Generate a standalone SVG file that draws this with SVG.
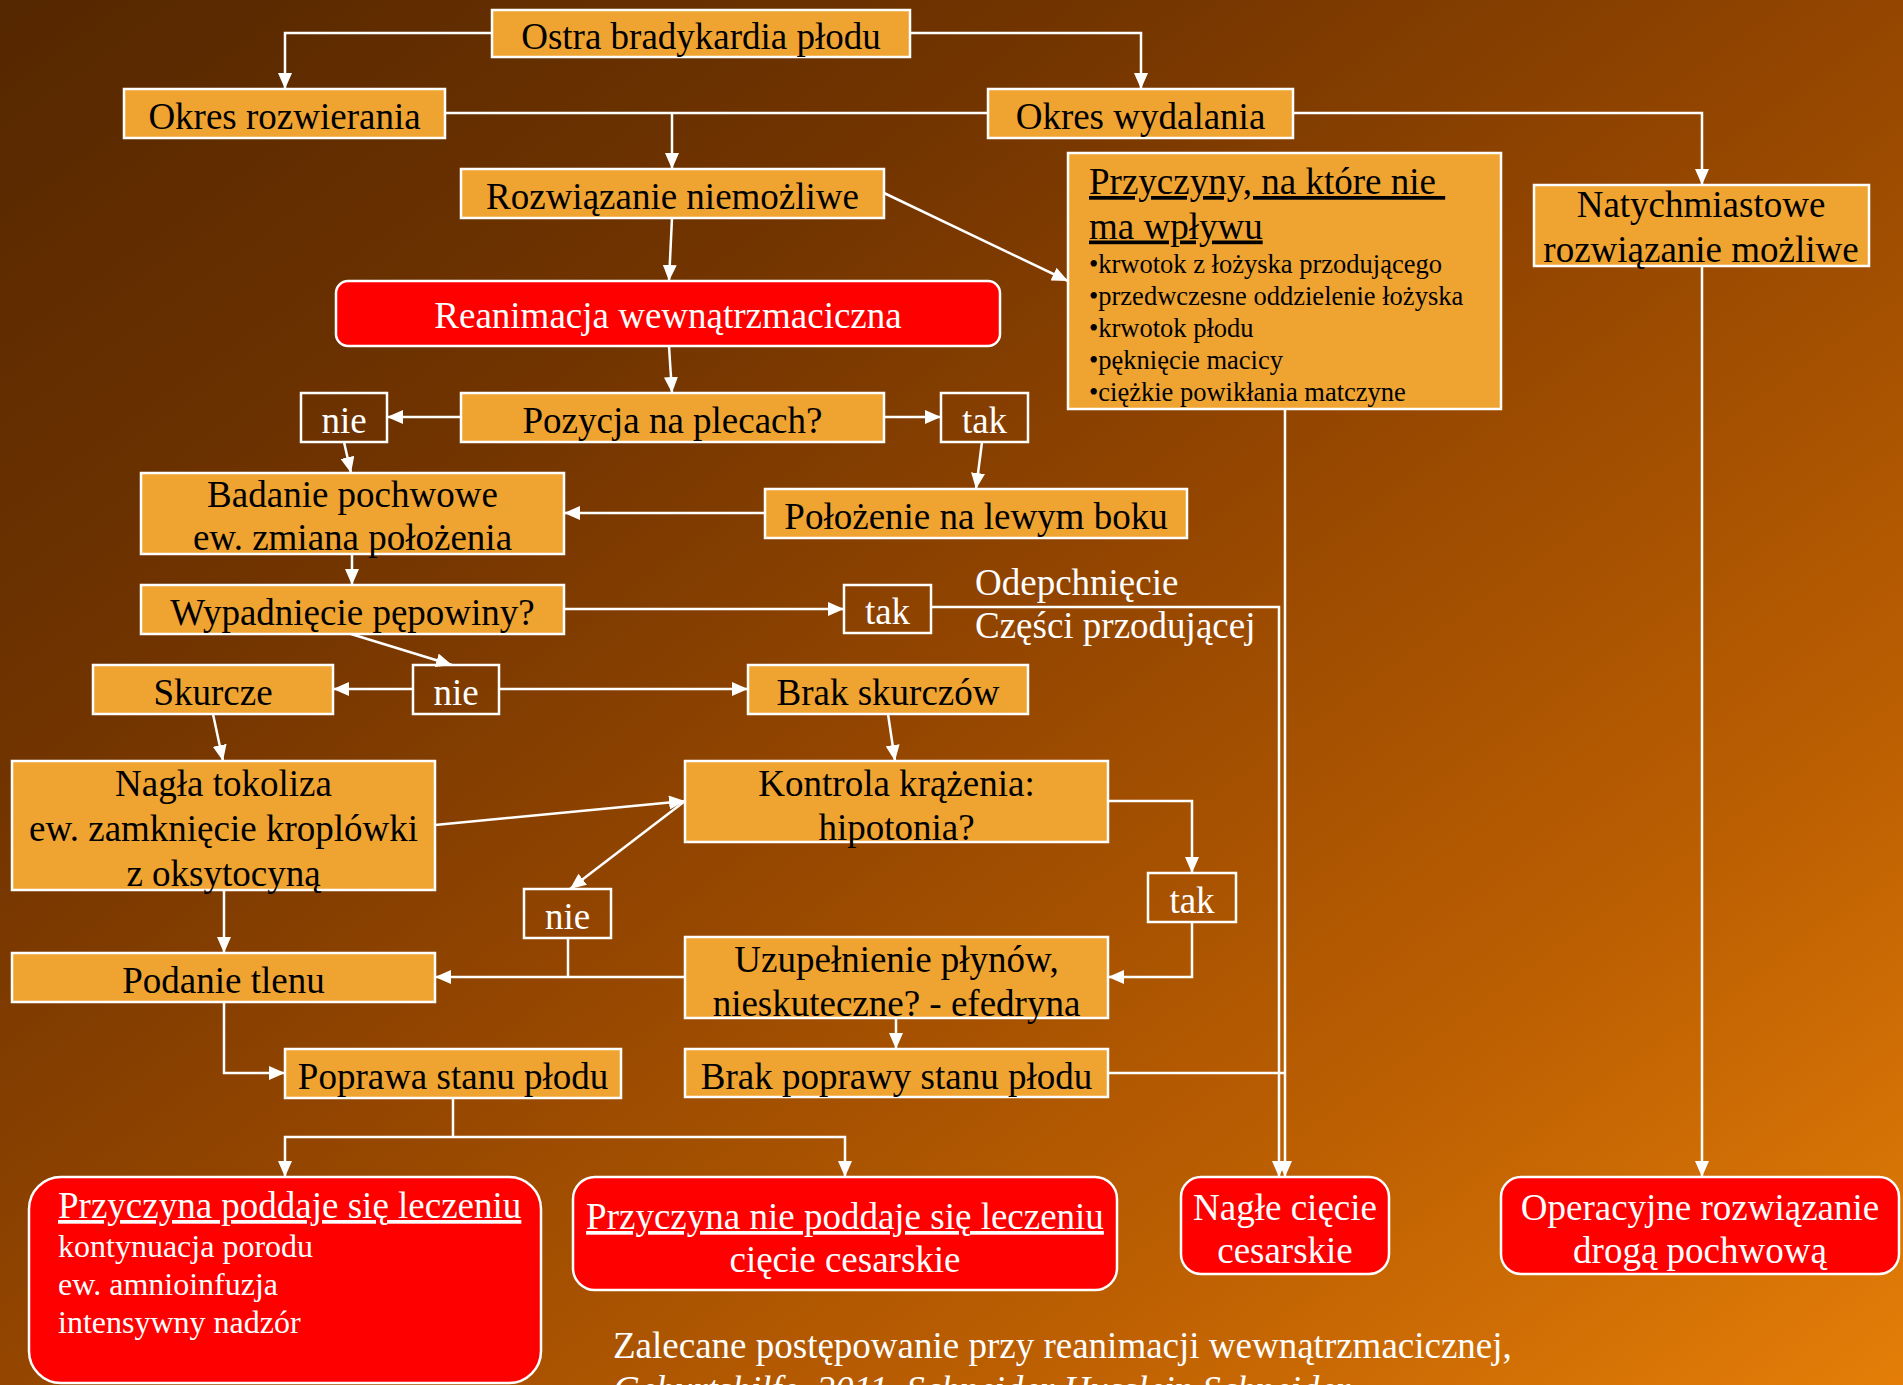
<svg xmlns="http://www.w3.org/2000/svg" width="1903" height="1385" viewBox="0 0 1903 1385">
<defs>
<linearGradient id="bg" x1="0" y1="0" x2="1" y2="1">
<stop offset="0" stop-color="#552700"/>
<stop offset="0.28" stop-color="#713400"/>
<stop offset="0.5" stop-color="#944600"/>
<stop offset="0.76" stop-color="#bc5f02"/>
<stop offset="1" stop-color="#e47e08"/>
</linearGradient>
<marker id="ar" viewBox="0 0 16 14" refX="16" refY="7" markerWidth="16" markerHeight="14" orient="auto" markerUnits="userSpaceOnUse">
<path d="M0,0 L16,7 L0,14 z" fill="#fff"/>
</marker>
<style>
text{font-family:"Liberation Serif","Times New Roman",serif;font-size:37px}
.o{fill:#efa331;stroke:#fff;stroke-width:2.5}
.r{fill:#ff0000;stroke:#fff;stroke-width:2.5}
.d{fill:none;stroke:#fff;stroke-width:2.5}
.k{fill:#000}
.w{fill:#fff}
.c{text-anchor:middle}
.s{font-size:26.5px}
.m{font-size:32px}
.u{text-decoration:underline}
#connectors path{fill:none;stroke:#fff;stroke-width:2.5}
#connectors path.a{marker-end:url(#ar)}
</style>
</defs>
<rect x="0" y="0" width="1903" height="1385" fill="url(#bg)"/>
<g id="connectors">
<path class="a" d="M492,33 H285 V89"/>
<path class="a" d="M910,33 H1141 V89"/>
<path d="M445,113 H988"/>
<path class="a" d="M672,113 V169"/>
<path class="a" d="M1293,113 H1702 V185"/>
<path class="a" d="M884,193 L1068,281"/>
<path class="a" d="M672,218 L669,281"/>
<path class="a" d="M669,346 L672,393"/>
<path class="a" d="M461,417 H387"/>
<path class="a" d="M884,417 H941"/>
<path class="a" d="M344,442 L351,473"/>
<path class="a" d="M982,442 L976,489"/>
<path class="a" d="M765,513 H564"/>
<path class="a" d="M352,554 V585"/>
<path class="a" d="M564,609 H844"/>
<path class="a" d="M931,607 H1279 V1177"/>
<path class="a" d="M351,634 L452,665"/>
<path class="a" d="M413,689 H333"/>
<path class="a" d="M499,689 H748"/>
<path class="a" d="M213,714 L223,761"/>
<path class="a" d="M888,714 L895,761"/>
<path class="a" d="M435,825 L685,801"/>
<path class="a" d="M685,801 L570,889"/>
<path class="a" d="M1108,801 H1192 V873"/>
<path class="a" d="M1192,922 V977 H1108"/>
<path class="a" d="M685,977 H435"/>
<path d="M568,938 V977"/>
<path class="a" d="M224,890 V953"/>
<path class="a" d="M896,1018 V1049"/>
<path class="a" d="M224,1002 V1073 H285"/>
<path d="M1108,1073 H1285"/>
<path class="a" d="M1285,409 V1177"/>
<path d="M453,1098 V1137"/>
<path class="a" d="M453,1137 H285 V1177"/>
<path class="a" d="M453,1137 H845 V1177"/>
<path class="a" d="M1702,266 V1177"/>
<text class="w" x="975" y="594.5">Odepchnięcie</text>
<text class="w" x="975" y="638">Części przodującej</text>
</g>
<g id="ostra"><rect class="o" x="492" y="10" width="418" height="47"/><text class="k c" x="701" y="48.5">Ostra bradykardia płodu</text></g>
<g id="okres_rozwierania"><rect class="o" x="124" y="89" width="321" height="49"/><text class="k c" x="284.5" y="128.5">Okres rozwierania</text></g>
<g id="okres_wydalania"><rect class="o" x="988" y="89" width="305" height="49"/><text class="k c" x="1140.5" y="128.5">Okres wydalania</text></g>
<g id="rozwiazanie_niemozliwe"><rect class="o" x="461" y="169" width="423" height="49"/><text class="k c" x="672.5" y="208.5">Rozwiązanie niemożliwe</text></g>
<g id="przyczyny"><rect class="o" x="1068" y="153" width="433" height="256"/>
<text class="k u" x="1089" y="194">Przyczyny, na które nie&#160;</text>
<text class="k u" x="1089" y="238.5">ma wpływu</text>
<text class="k s" x="1089" y="273">•krwotok z łożyska przodującego</text>
<text class="k s" x="1089" y="305">•przedwczesne oddzielenie łożyska</text>
<text class="k s" x="1089" y="337">•krwotok płodu</text>
<text class="k s" x="1089" y="369">•pęknięcie macicy</text>
<text class="k s" x="1089" y="401">•ciężkie powikłania matczyne</text>
</g>
<g id="natychmiastowe"><rect class="o" x="1534" y="185" width="335" height="81"/><text class="k c" x="1701" y="217">Natychmiastowe</text><text class="k c" x="1701" y="262">rozwiązanie możliwe</text></g>
<g id="reanimacja"><rect class="r" x="336" y="281" width="664" height="65" rx="12"/><text class="w c" x="668" y="327.5">Reanimacja wewnątrzmaciczna</text></g>
<g id="pozycja"><rect class="o" x="461" y="393" width="423" height="49"/><text class="k c" x="672.5" y="432.5">Pozycja na plecach?</text></g>
<g id="nie1"><rect class="d" x="301" y="393" width="86" height="49"/><text class="w c" x="344" y="432.5">nie</text></g>
<g id="tak1"><rect class="d" x="941" y="393" width="87" height="49"/><text class="w c" x="984.5" y="432.5">tak</text></g>
<g id="badanie"><rect class="o" x="141" y="473" width="423" height="81"/><text class="k c" x="352.5" y="506.5">Badanie pochwowe</text><text class="k c" x="352.5" y="550">ew. zmiana położenia</text></g>
<g id="polozenie"><rect class="o" x="765" y="489" width="422" height="49"/><text class="k c" x="976" y="528.5">Położenie na lewym boku</text></g>
<g id="wypadniecie"><rect class="o" x="141" y="585" width="423" height="49"/><text class="k c" x="352.5" y="624.5">Wypadnięcie pępowiny?</text></g>
<g id="tak2"><rect class="d" x="844" y="585" width="87" height="48"/><text class="w c" x="887.5" y="623.5">tak</text></g>
<g id="skurcze"><rect class="o" x="93" y="665" width="240" height="49"/><text class="k c" x="213" y="704.5">Skurcze</text></g>
<g id="nie3"><rect class="d" x="413" y="665" width="86" height="49"/><text class="w c" x="456" y="704.5">nie</text></g>
<g id="brak_skurczow"><rect class="o" x="748" y="665" width="280" height="49"/><text class="k c" x="888" y="704.5">Brak skurczów</text></g>
<g id="nagla_tokoliza"><rect class="o" x="12" y="761" width="423" height="129"/><text class="k c" x="223.5" y="795.5">Nagła tokoliza</text><text class="k c" x="223.5" y="840.5">ew. zamknięcie kroplówki</text><text class="k c" x="223.5" y="885.5">z oksytocyną</text></g>
<g id="kontrola"><rect class="o" x="685" y="761" width="423" height="81"/><text class="k c" x="896.5" y="795.5">Kontrola krążenia:</text><text class="k c" x="896.5" y="839.5">hipotonia?</text></g>
<g id="nie4"><rect class="d" x="524" y="889" width="87" height="49"/><text class="w c" x="567.5" y="928.5">nie</text></g>
<g id="tak5"><rect class="d" x="1148" y="873" width="88" height="49"/><text class="w c" x="1192" y="912.5">tak</text></g>
<g id="uzupelnienie"><rect class="o" x="685" y="937" width="423" height="81"/><text class="k c" x="896.5" y="971.5">Uzupełnienie płynów,</text><text class="k c" x="896.5" y="1015.5">nieskuteczne? - efedryna</text></g>
<g id="podanie_tlenu"><rect class="o" x="12" y="953" width="423" height="49"/><text class="k c" x="223.5" y="992.5">Podanie tlenu</text></g>
<g id="poprawa"><rect class="o" x="285" y="1049" width="336" height="49"/><text class="k c" x="453" y="1088.5">Poprawa stanu płodu</text></g>
<g id="brak_poprawy"><rect class="o" x="685" y="1049" width="423" height="48"/><text class="k c" x="896.5" y="1088.5">Brak poprawy stanu płodu</text></g>
<g id="poddaje"><rect class="r" x="29" y="1177" width="512" height="206" rx="32"/>
<text class="w u" x="58" y="1218">Przyczyna poddaje się leczeniu</text>
<text class="w m" x="58" y="1257">kontynuacja porodu</text>
<text class="w m" x="58" y="1295">ew. amnioinfuzja</text>
<text class="w m" x="58" y="1333">intensywny nadzór</text>
</g>
<g id="nie_poddaje"><rect class="r" x="573" y="1177" width="544" height="113" rx="22"/><text class="w c u" x="845" y="1229">Przyczyna nie poddaje się leczeniu</text><text class="w c" x="845" y="1272">cięcie cesarskie</text></g>
<g id="nagle_ciecie"><rect class="r" x="1181" y="1177" width="208" height="97" rx="20"/><text class="w c" x="1285" y="1219.5">Nagłe cięcie</text><text class="w c" x="1285" y="1262.5">cesarskie</text></g>
<g id="operacyjne"><rect class="r" x="1501" y="1177" width="398" height="97" rx="20"/><text class="w c" x="1700" y="1219.5">Operacyjne rozwiązanie</text><text class="w c" x="1700" y="1262.5">drogą pochwową</text></g>
<g id="citation">
<text class="w" x="613" y="1357.5">Zalecane postępowanie przy reanimacji wewnątrzmacicznej,</text>
<text class="w" x="613" y="1402" font-style="italic">Geburtshilfe, 2011, Schneider Husslein Schneider</text>
</g>
</svg>
